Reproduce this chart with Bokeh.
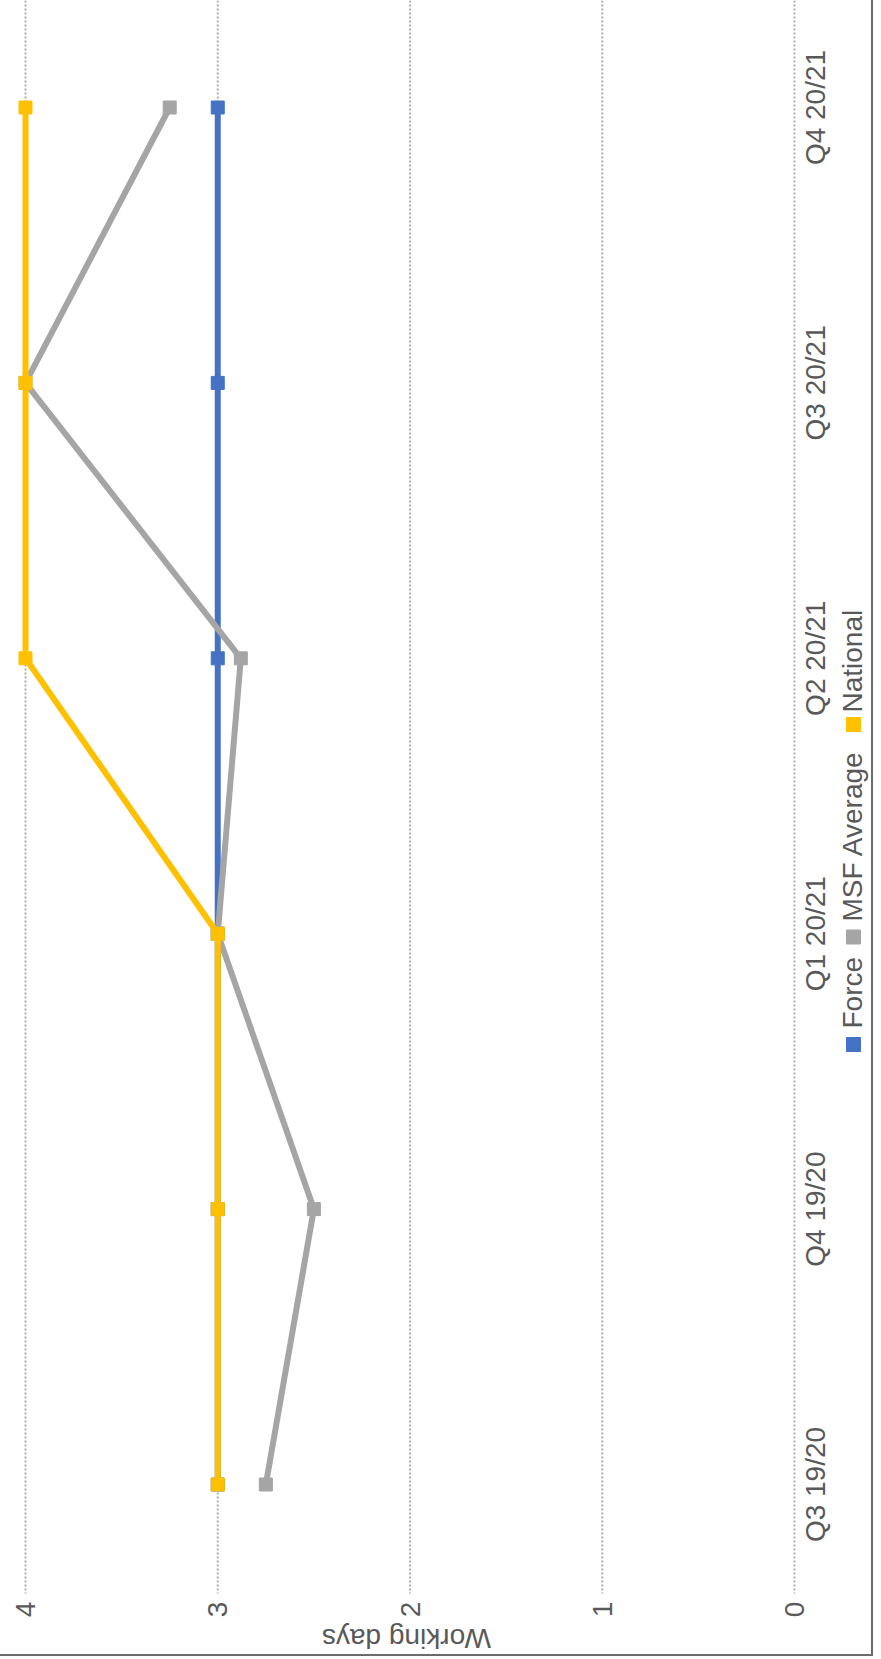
import math
from bokeh.plotting import figure
from bokeh.models import Range1d
from bokeh.core.properties import value
from bokeh.embed import file_html
from bokeh.resources import INLINE

# ---- data ----
quarters = ["Q3 19/20", "Q4 19/20", "Q1 20/21", "Q2 20/21", "Q3 20/21", "Q4 20/21"]
force = [3, 3, 3, 3, 3, 3]
msf_average = [2.75, 2.5, 3.0, 2.88, 4.0, 3.25]
national = [3, 3, 3, 4, 4, 4]
value_ticks = [0, 1, 2, 3, 4]
value_tick_labels = ["0", "1", "2", "3", "4"]
axis_title = "Working days"
series_names = ["Force", "MSF Average", "National"]
series_colors = ["#4472C4", "#A5A5A5", "#FFC000"]

positions = list(range(len(quarters)))

FONT = "Liberation Sans"
TXT = "#595959"
FS = "28px"

# ---- layout (pixels -> data) ----
W, H = 873, 1656
PLOT_BOTTOM_PX = 1593
PX_PER_X = 192.25
PX_PER_Y = 275.4
X_LEFT = 4 + 25 / PX_PER_X
X_RIGHT = X_LEFT - W / PX_PER_X
Y_TOP = 5 + 107 / PX_PER_Y
Y_BOTTOM = Y_TOP - H / PX_PER_Y

def dx(px):
    return X_LEFT - px / PX_PER_X

def dy(py):
    return Y_TOP - py / PX_PER_Y

p = figure(width=W, height=H,
           x_range=Range1d(X_LEFT, X_RIGHT), y_range=Range1d(Y_BOTTOM, Y_TOP),
           output_backend="svg", toolbar_location=None,
           x_axis_location=None, y_axis_location=None,
           min_border=0)
p.outline_line_color = None
p.background_fill_color = "white"
p.border_fill_color = "white"
p.xgrid.visible = False
p.ygrid.visible = False
p.styles = {"border-right": "2px solid #6b6b6b", "border-bottom": "2px solid #6b6b6b"}

# value gridlines (dotted), ending at the plot-area bottom
n = len(value_ticks)
p.segment(x0=value_ticks, y0=[Y_TOP] * n, x1=value_ticks, y1=[dy(PLOT_BOTTOM_PX)] * n,
          line_color="#ADADAD", line_width=2, line_dash="2 2")

# series
for vals, col in zip([force, msf_average, national], series_colors):
    p.line(x=vals, y=positions, line_color=col, line_width=6, line_join="round")
    p.scatter(x=vals, y=positions, marker="square", size=13, fill_color=col, line_color=col)

text_style = dict(text_font=value(FONT), text_font_size=value(FS), text_color=TXT,
                  text_baseline="middle")

# value tick labels (rotated)
p.text(x=value_ticks, y=[dy(1609)] * n, text=value_tick_labels, angle=math.pi / 2,
       text_align="center", **text_style)

# value axis title (upside down)
p.text(x=[dx(406)], y=[dy(1638)], text=[axis_title], angle=math.pi,
       text_align="center", **text_style)

# category labels, reading bottom to top
p.text(x=[dx(815)] * len(quarters), y=positions, text=quarters, angle=math.pi / 2,
       text_align="center", **text_style)

# legend, rotated
leg_x = 852
square_py = [1044, 936.5, 724]
text_py = [1028, 921, 712]
p.scatter(x=[dx(leg_x + 1)] * 3, y=[dy(v) for v in square_py], marker="square", size=14,
          fill_color=series_colors, line_color=series_colors)
p.text(x=[dx(leg_x)] * 3, y=[dy(v) for v in text_py], text=series_names, angle=math.pi / 2,
       text_align="left", **text_style)

open("out.html", "w").write(file_html(p, INLINE))
